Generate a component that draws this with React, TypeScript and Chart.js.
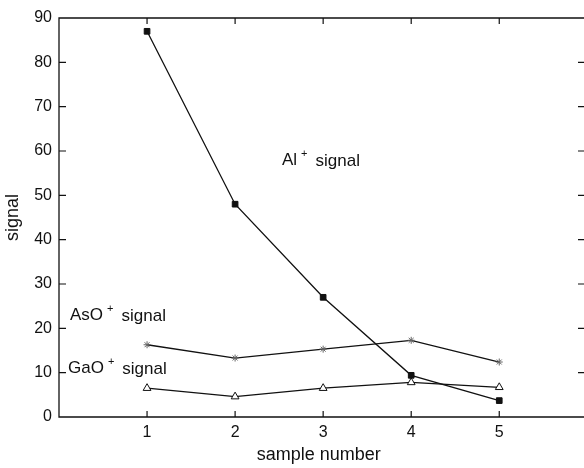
import React, { useEffect, useRef } from "react";
import { Chart, registerables } from "chart.js";

Chart.register(...registerables);

const samples = [1, 2, 3, 4, 5];
const alSignal = [87.0, 48.0, 27.0, 9.4, 3.7];
const asoSignal = [16.3, 13.3, 15.3, 17.3, 12.4];
const gaoSignal = [6.5, 4.6, 6.5, 7.8, 6.7];
const yTicks = [0, 10, 20, 30, 40, 50, 60, 70, 80, 90];

const FONT = "'Liberation Sans', Arial, Helvetica, sans-serif";

const framePlugin = {
  id: "frame",
  afterDatasetsDraw(chart: any) {
    const { ctx, chartArea, scales } = chart;
    const x = scales.x;
    const y = scales.y;
    const { left, top, bottom } = chartArea;
    const right = chart.width + 1;
    ctx.save();
    ctx.strokeStyle = "#111";
    ctx.lineWidth = 1.3;
    ctx.beginPath();
    ctx.moveTo(right, top);
    ctx.lineTo(left, top);
    ctx.lineTo(left, bottom);
    ctx.lineTo(right, bottom);
    ctx.stroke();
    ctx.lineWidth = 1.2;
    ctx.beginPath();
    samples.forEach((s) => {
      const px = x.getPixelForValue(s);
      ctx.moveTo(px, top);
      ctx.lineTo(px, top + 6);
      ctx.moveTo(px, bottom);
      ctx.lineTo(px, bottom - 6);
    });
    yTicks.forEach((v) => {
      if (v === 0 || v === 90) return;
      const py = y.getPixelForValue(v);
      ctx.moveTo(left, py);
      ctx.lineTo(left + 7, py);
      ctx.moveTo(right, py);
      ctx.lineTo(right - 7, py);
    });
    ctx.stroke();

    const label = (main: string, sx: number, sy: number) => {
      ctx.fillStyle = "#111";
      ctx.textBaseline = "middle";
      ctx.textAlign = "left";
      ctx.font = `17px ${FONT}`;
      ctx.fillText(main, sx, sy);
      let w = ctx.measureText(main).width;
      ctx.font = `11px ${FONT}`;
      ctx.fillText("+", sx + w + 4, sy - 6);
      w += 4 + ctx.measureText("+").width + 8;
      ctx.font = `17px ${FONT}`;
      ctx.fillText("signal", sx + w, sy + 1);
    };
    label("Al", 282, 160);
    label("AsO", 70, 315);
    label("GaO", 68, 368);
    ctx.restore();
  },
};

export default function App() {
  const ref = useRef<HTMLCanvasElement | null>(null);
  useEffect(() => {
    document.body.style.margin = "0";
    const canvas = ref.current;
    if (!canvas) return;
    const chart = new Chart(canvas, {
      type: "line",
      data: {
        datasets: [
          {
            label: "Al+ signal",
            data: samples.map((s, i) => ({ x: s, y: alSignal[i] })),
            borderColor: "#111",
            borderWidth: 1.3,
            pointStyle: "rect",
            pointRadius: 4,
            pointBackgroundColor: "#111",
            pointBorderColor: "#111",
            pointBorderWidth: 1,
          },
          {
            label: "AsO+ signal",
            data: samples.map((s, i) => ({ x: s, y: asoSignal[i] })),
            borderColor: "#111",
            borderWidth: 1.3,
            pointStyle: "star",
            pointRadius: 3.5,
            pointBackgroundColor: "#fff",
            pointBorderColor: "#666",
            pointBorderWidth: 1,
          },
          {
            label: "GaO+ signal",
            data: samples.map((s, i) => ({ x: s, y: gaoSignal[i] })),
            borderColor: "#111",
            borderWidth: 1.3,
            pointStyle: "triangle",
            pointRadius: 4.5,
            pointBackgroundColor: "#fff",
            pointBorderColor: "#111",
            pointBorderWidth: 1,
          },
        ],
      },
      options: {
        responsive: false,
        animation: false,
        layout: { padding: { top: 18, right: 0, left: 0, bottom: 0 } },
        plugins: {
          legend: { display: false },
          tooltip: { enabled: false },
        },
        scales: {
          x: {
            type: "linear",
            min: 0,
            max: 5.9,
            afterFit: (s: any) => {
              s.height = 51;
              s.paddingLeft = 0;
              s.paddingRight = 0;
            },
            afterBuildTicks: (s: any) => {
              s.ticks = samples.map((v) => ({ value: v }));
            },
            grid: { display: false, drawTicks: false },
            border: { display: false },
            ticks: {
              padding: 6,
              color: "#111",
              font: { family: FONT, size: 16 },
              maxRotation: 0,
              autoSkip: false,
            },
            title: {
              display: true,
              text: "sample number",
              color: "#111",
              font: { family: FONT, size: 18 },
              padding: { top: 0, bottom: 2 },
            },
          },
          y: {
            min: 0,
            max: 90,
            afterFit: (s: any) => {
              s.width = 59;
              s.paddingTop = 0;
              s.paddingBottom = 0;
            },
            afterBuildTicks: (s: any) => {
              s.ticks = yTicks.map((v) => ({ value: v }));
            },
            grid: { display: false, drawTicks: false },
            border: { display: false },
            ticks: {
              padding: 7,
              color: "#111",
              font: { family: FONT, size: 16 },
            },
            title: {
              display: true,
              text: "signal",
              color: "#111",
              font: { family: FONT, size: 18 },
              padding: { top: 2, bottom: 0 },
            },
          },
        },
      },
      plugins: [framePlugin],
    });
    return () => chart.destroy();
  }, []);
  return (
    <div style={{ width: 584, height: 468, background: "#fff" }}>
      <canvas ref={ref} width={584} height={468} />
    </div>
  );
}
